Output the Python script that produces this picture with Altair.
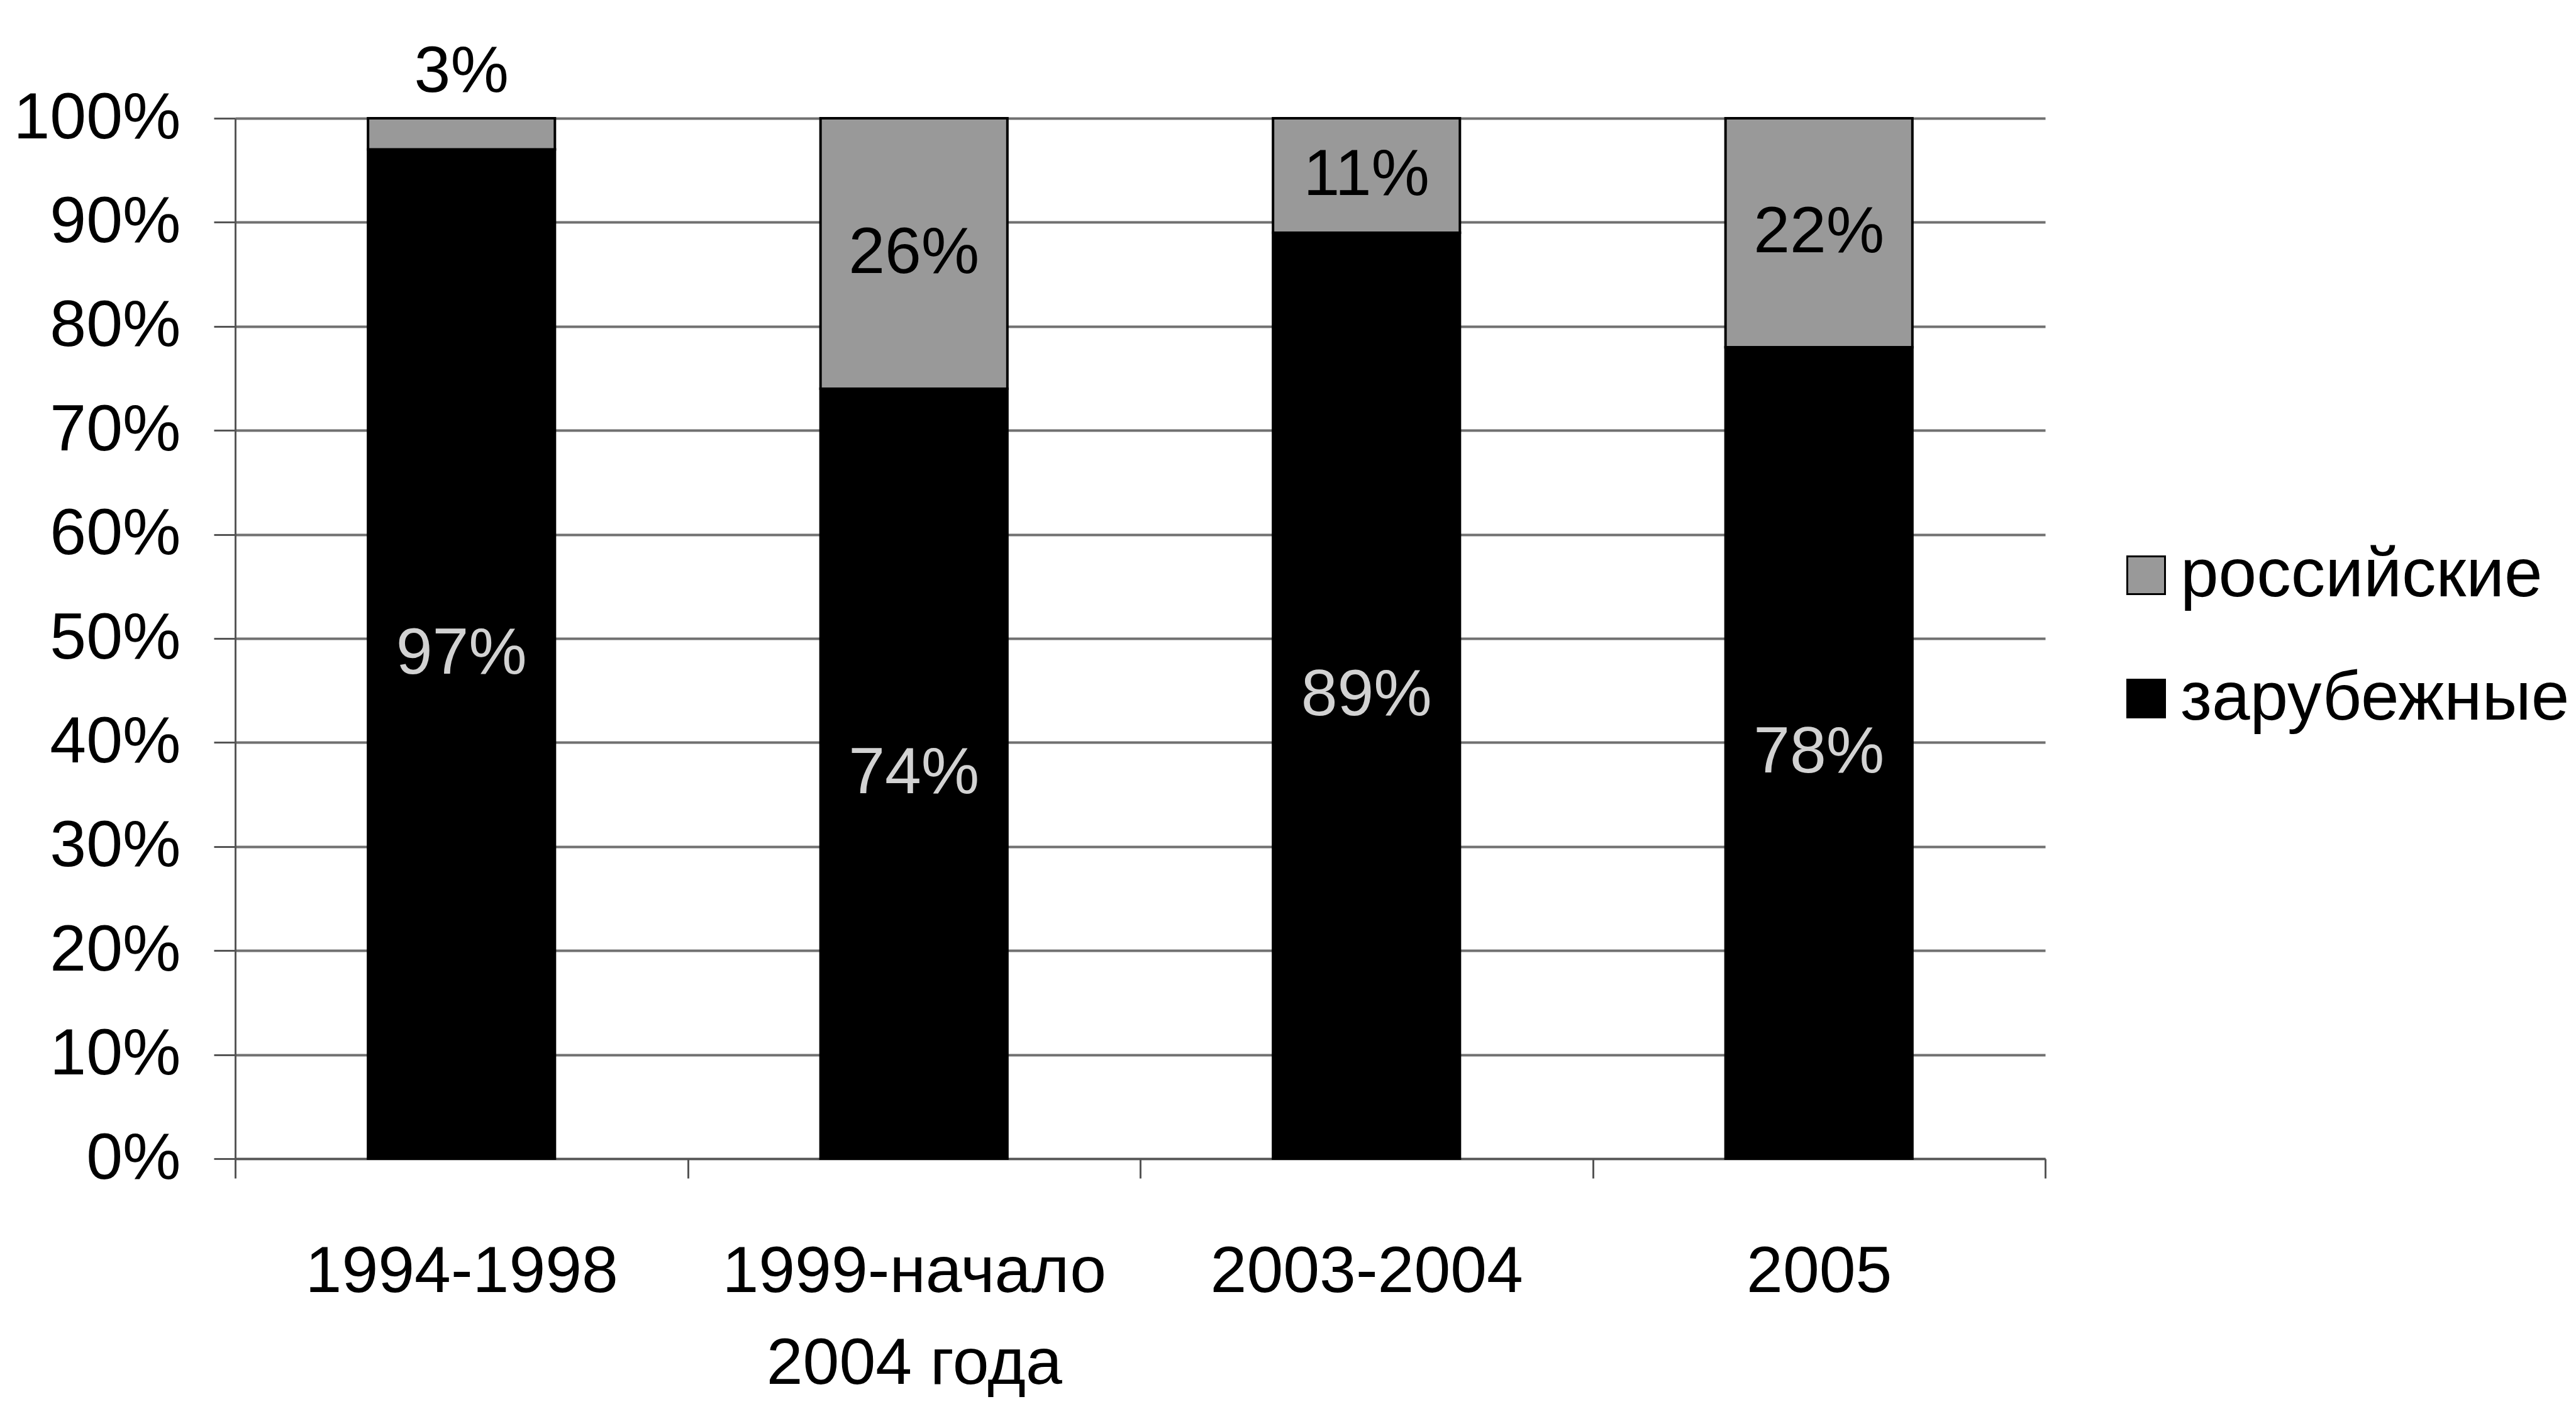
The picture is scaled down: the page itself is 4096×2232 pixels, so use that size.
import altair as alt
import pandas as pd

# Share of films by origin per period (percent)
categories = ["1994-1998", "1999-начало\n2004 года", "2003-2004", "2005"]
foreign = [97, 74, 89, 78]     # зарубежные
russian = [3, 26, 11, 22]      # российские
series_names = ["российские", "зарубежные"]

FONT = "Liberation Sans, Arial, sans-serif"
GRID = "#707070"
AXIS = "#555555"

rows = []
for cat, f, r in zip(categories, foreign, russian):
    rows.append({"period": cat, "origin": "зарубежные", "value": f, "start": 0,
                 "order": 0, "label": f"{f}%"})
    rows.append({"period": cat, "origin": "российские", "value": r, "start": f,
                 "order": 1, "label": f"{r}%"})
df = pd.DataFrame(rows)
df["end"] = df["start"] + df["value"]
df["mid"] = df["start"] + df["value"] / 2

x_scale = alt.Scale(paddingInner=0, paddingOuter=0)

x_enc = alt.X(
    "period:N",
    sort=categories,
    scale=x_scale,
    axis=alt.Axis(
        title=None, labelAngle=0, labelFont=FONT, labelFontSize=104,
        labelColor="#000000",
        labelExpr="datum.value ? split(datum.value, '\\n') : ''",
        labelBaseline="top", labelLineHeight=146, labelPadding=98,
        labelLimit=0, tickBand="extent", ticks=True, tickSize=31,
        tickColor=AXIS, tickWidth=3, domainColor=AXIS,
        domainWidth=3, grid=False,
    ),
)

y_scale = alt.Scale(domain=[0, 100], nice=False)

bars = alt.Chart(df).mark_bar(
    stroke="#000000", strokeWidth=4, width=alt.RelativeBandSize(0.413)
).encode(
    x=x_enc,
    y=alt.Y(
        "start:Q", scale=y_scale,
        axis=alt.Axis(
            title=None, values=list(range(0, 101, 10)),
            labelExpr="datum.value + '%'", labelFont=FONT, labelFontSize=104,
            labelColor="#000000", labelPadding=53, labelLimit=0, tickSize=34,
            tickColor=AXIS, tickWidth=3, domainColor=AXIS,
            domainWidth=3, grid=True, gridColor=GRID, gridWidth=4,
            labelOverlap=False,
        ),
    ),
    y2="end:Q",
    color=alt.Color(
        "origin:N",
        scale=alt.Scale(domain=series_names, range=["#999999", "#000000"]),
        legend=alt.Legend(
            title=None, orient="none", legendX=2984, legendY=672,
            labelFont=FONT, labelFontSize=109, labelColor="#000000",
            labelLimit=0, symbolType="square", symbolSize=3600,
            symbolStrokeColor="#000000", symbolStrokeWidth=3,
            symbolOpacity=1, labelOffset=0, rowPadding=86, padding=0,
        ),
    ),
    order=alt.Order("order:Q"),
)

inside = df[df["value"] >= 5]
outside = df[df["value"] < 5]

labels_in = alt.Chart(inside).mark_text(
    font=FONT, fontSize=104, baseline="middle", align="center"
).encode(
    x=alt.X("period:N", sort=categories, scale=x_scale),
    y=alt.Y("mid:Q", scale=y_scale),
    text="label:N",
    color=alt.Color(
        "origin:N",
        scale=alt.Scale(domain=series_names, range=["#000000", "#d2d2d2"]),
        legend=None,
    ),
)

labels_out = alt.Chart(outside).mark_text(
    font=FONT, fontSize=104, baseline="alphabetic", align="center",
    dy=-42, color="#000000"
).encode(
    x=alt.X("period:N", sort=categories, scale=x_scale),
    y=alt.Y("end:Q", scale=y_scale),
    text="label:N",
)

chart = alt.layer(bars, labels_in, labels_out).resolve_scale(
    color="independent"
).properties(
    width=2878, height=1654,
    autosize=alt.AutoSizeParams(type="none"),
    padding={"left": 374, "top": 188, "right": 844, "bottom": 390},
    background="#ffffff",
).configure_view(stroke=None)

chart.save("out.html", embed_options={"renderer": "svg", "actions": False})
